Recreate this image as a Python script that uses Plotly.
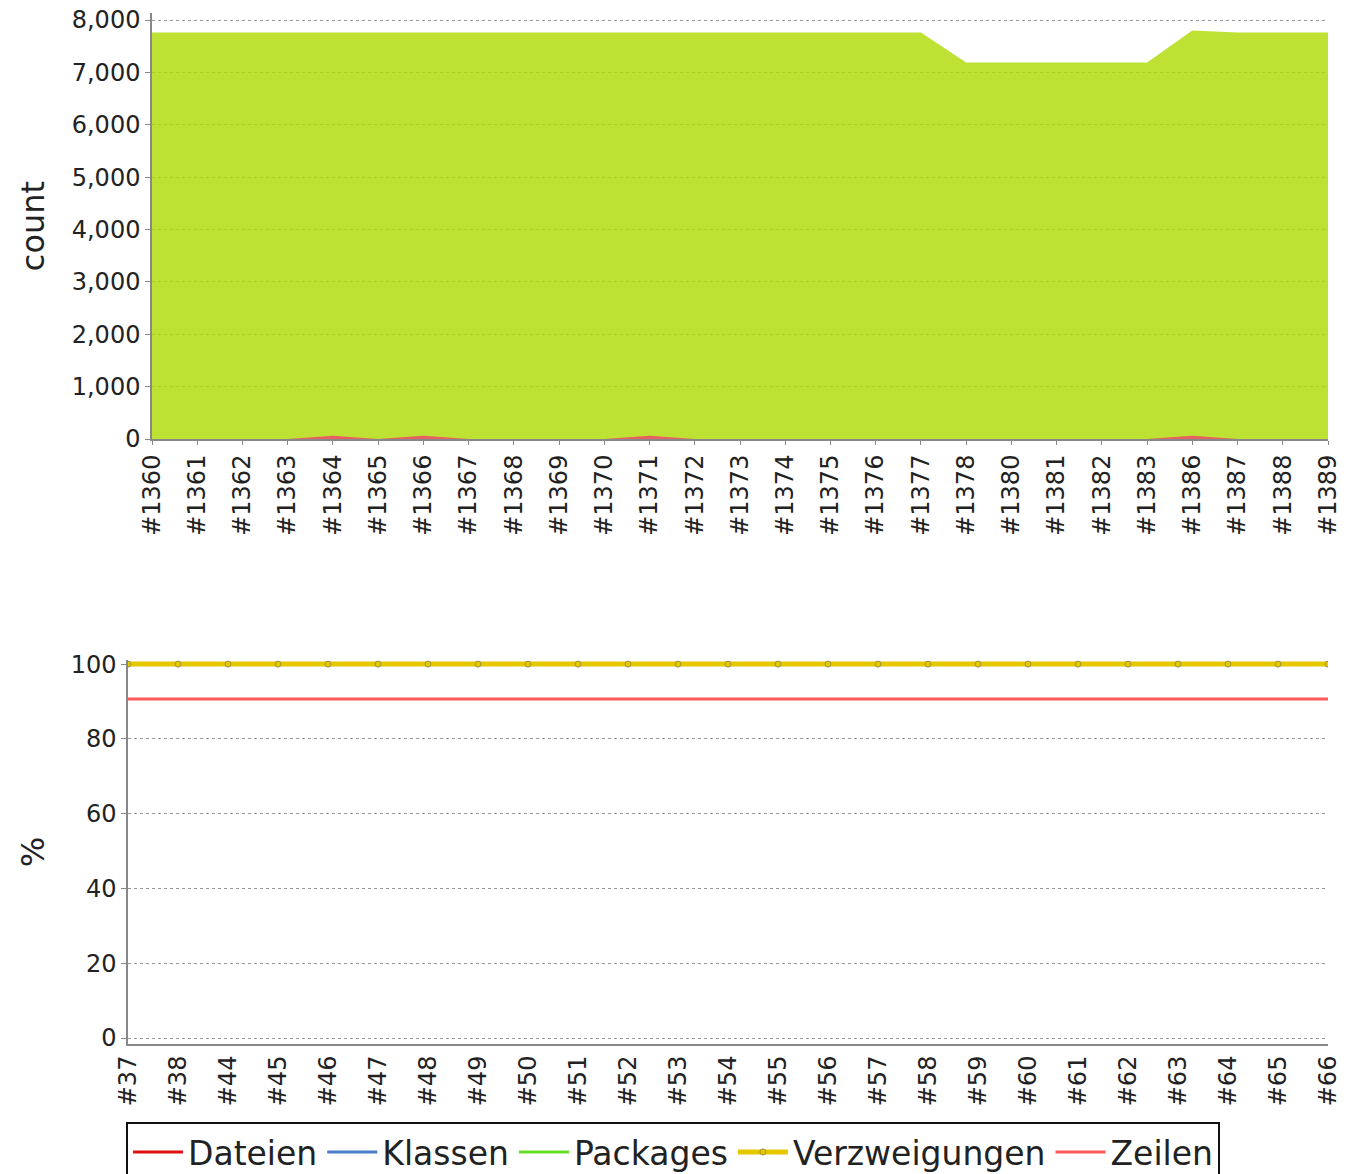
import plotly.graph_objects as go

W, H = 1356, 1174
OFF = 8  # page body margin of the html page

# ---------- data: top chart (count) ----------
top_builds = ["#1360", "#1361", "#1362", "#1363", "#1364", "#1365", "#1366", "#1367",
              "#1368", "#1369", "#1370", "#1371", "#1372", "#1373", "#1374", "#1375",
              "#1376", "#1377", "#1378", "#1380", "#1381", "#1382", "#1383", "#1386",
              "#1387", "#1388", "#1389"]
top_main_counts = [7760, 7760, 7760, 7760, 7760, 7760, 7760, 7760,
                   7760, 7760, 7760, 7760, 7760, 7760, 7760, 7760,
                   7760, 7760, 7190, 7190, 7190, 7190, 7190, 7800,
                   7760, 7760, 7760]
top_small_counts = [0, 0, 0, 0, 60, 0, 60, 0,
                    0, 0, 0, 60, 0, 0, 0, 0,
                    0, 0, 0, 0, 0, 0, 0, 60,
                    0, 0, 0]
top_yticks = [0, 1000, 2000, 3000, 4000, 5000, 6000, 7000, 8000]

# ---------- data: bottom chart (%) ----------
bottom_builds = ["#37", "#38", "#44", "#45", "#46", "#47", "#48", "#49", "#50",
                 "#51", "#52", "#53", "#54", "#55", "#56", "#57", "#58", "#59",
                 "#60", "#61", "#62", "#63", "#64", "#65", "#66"]
n_b = len(bottom_builds)
dateien = [100] * n_b
klassen = [100] * n_b
packages = [100] * n_b
verzweigungen = [100] * n_b
zeilen = [90.7] * n_b
bottom_yticks = [0, 20, 40, 60, 80, 100]

FONT = "DejaVu Sans"
AXIS_GRAY = "#888888"
GRID_GRAY = "#999999"


def px_x(p):
    return (p - OFF) / W


def px_y(p):
    return 1 - (p - OFF) / H


fig = go.Figure()

# top chart
fig.add_trace(go.Scatter(
    x=top_builds, y=top_main_counts, mode="lines", fill="tozeroy",
    line=dict(width=0, color="rgba(172,219,0,0.8)"),
    fillcolor="rgba(172,219,0,0.8)", showlegend=False,
    xaxis="x", yaxis="y", hoverinfo="x+y"))
fig.add_trace(go.Scatter(
    x=top_builds, y=top_small_counts, mode="lines", fill="tozeroy",
    line=dict(width=0, color="#e86060"),
    fillcolor="#e86060", showlegend=False,
    xaxis="x", yaxis="y", hoverinfo="x+y"))

# bottom chart
fig.add_trace(go.Scatter(x=bottom_builds, y=dateien, name="Dateien", mode="lines",
                         line=dict(color="#e01010", width=3), xaxis="x2", yaxis="y2"))
fig.add_trace(go.Scatter(x=bottom_builds, y=klassen, name="Klassen", mode="lines",
                         line=dict(color="#4a7cc8", width=3), xaxis="x2", yaxis="y2"))
fig.add_trace(go.Scatter(x=bottom_builds, y=packages, name="Packages", mode="lines",
                         line=dict(color="#66dd22", width=3), xaxis="x2", yaxis="y2"))
fig.add_trace(go.Scatter(x=bottom_builds, y=verzweigungen, name="Verzweigungen",
                         mode="lines+markers",
                         line=dict(color="#e6c800", width=5),
                         marker=dict(symbol="circle", size=6, color="#e6c800",
                                     line=dict(color="#9a9440", width=1)),
                         xaxis="x2", yaxis="y2"))
fig.add_trace(go.Scatter(x=bottom_builds, y=zeilen, name="Zeilen", mode="lines",
                         line=dict(color="#ff5a5a", width=3), xaxis="x2", yaxis="y2"))

tick_font = dict(family=FONT, size=24, color="#222222")

fig.update_layout(
    width=W, height=H, autosize=False,
    margin=dict(l=0, r=0, t=0, b=0, pad=0),
    paper_bgcolor="white", plot_bgcolor="rgba(0,0,0,0)",
    font=dict(family=FONT, color="#222222"),
    xaxis=dict(
        domain=[px_x(152), px_x(1328)], anchor="y", automargin=False,
        type="category", range=[0, len(top_builds) - 1],
        tickangle=-90, tickfont=tick_font, ticklabeloverflow="allow",
        showgrid=False, zeroline=False,
        showline=True, linecolor=AXIS_GRAY, linewidth=2,
        ticks="outside", ticklen=4, tickcolor=AXIS_GRAY),
    yaxis=dict(
        domain=[px_y(439), px_y(13)], anchor="x", automargin=False,
        range=[0, 8134], tickvals=top_yticks, tickformat=",d",
        tickfont=tick_font, ticklabeloverflow="allow",
        showgrid=True, gridcolor=GRID_GRAY, griddash="3px,3px", gridwidth=1,
        zeroline=False, showline=True, linecolor=AXIS_GRAY, linewidth=1.5,
        ticks="outside", ticklen=5, tickcolor=AXIS_GRAY,
        title=dict(text="count", font=dict(family=FONT, size=32), standoff=18)),
    xaxis2=dict(
        domain=[px_x(128), px_x(1328)], anchor="y2", automargin=False,
        type="category", range=[0, n_b - 1],
        tickangle=-90, tickfont=tick_font, ticklabeloverflow="allow",
        showgrid=False, zeroline=False,
        showline=True, linecolor=AXIS_GRAY, linewidth=2,
        ticks="", tickcolor=AXIS_GRAY),
    yaxis2=dict(
        domain=[px_y(1044), px_y(660)], anchor="x2", automargin=False,
        range=[-1.6, 101.1], tickvals=bottom_yticks,
        tickfont=tick_font, ticklabeloverflow="allow",
        showgrid=True, gridcolor=GRID_GRAY, griddash="3px,3px", gridwidth=1,
        zeroline=False, showline=True, linecolor=AXIS_GRAY, linewidth=1.5,
        ticks="outside", ticklen=5, tickcolor=AXIS_GRAY,
        title=dict(text="%", font=dict(family=FONT, size=32), standoff=16)),
    legend=dict(
        orientation="h", x=px_x(126), xanchor="left",
        y=px_y(1122), yanchor="top",
        font=dict(family=FONT, size=33, color="#222222"),
        bordercolor="#111111", borderwidth=2, bgcolor="white",
        itemwidth=50, traceorder="normal"),
)

fig.write_html("out.html")
